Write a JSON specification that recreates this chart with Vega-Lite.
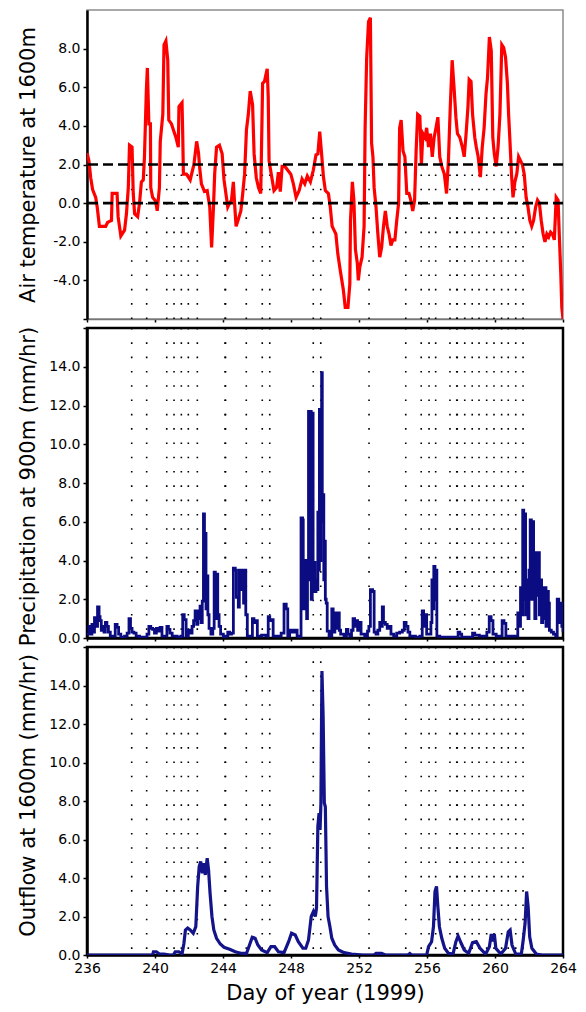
{
"$schema": "https://vega.github.io/schema/vega-lite/v6.json",
"autosize": {"type": "pad"},
"padding": {"left": 15, "top": 9, "right": 5, "bottom": 5},
"bounds": "flush",
"spacing": 9,
"background": "white",
"config": {
  "font": "DejaVu Sans",
  "axis": {"labelFont": "DejaVu Sans", "titleFont": "DejaVu Sans", "labelFontSize": 14, "titleFontSize": 21, "titleFontWeight": "normal", "labelColor": "#000", "titleColor": "#000", "tickColor": "#000", "domainColor": "#000", "grid": false, "labelFlush": false, "labelOverlap": false, "tickSize": 4, "labelPadding": 3, "tickWidth": 1.5},
  "view": {"stroke": null}
},
"datasets": {
  "dots": [{"day":238.63},{"day":239.51},{"day":240.69},{"day":241.12},{"day":241.55},{"day":241.96},{"day":242.49},{"day":244.12},{"day":244.15},{"day":245.37},{"day":246.31},{"day":246.75},{"day":249.31},{"day":249.75},{"day":252.59},{"day":254.75},{"day":255.66},{"day":256.12},{"day":256.51},{"day":257.35},{"day":257.75},{"day":257.78},{"day":258.22},{"day":258.66},{"day":259.06},{"day":259.51},{"day":259.94},{"day":260.39},{"day":260.78},{"day":261.22},{"day":261.65}],
  "temp": [
{"day":236.00,"temp":2.6},{"day":236.11,"temp":2.2},{"day":236.22,"temp":1.3},{"day":236.33,"temp":0.7},{"day":236.51,"temp":0.3},{"day":236.60,"temp":-0.2},{"day":236.73,"temp":-1.2},{"day":237.10,"temp":-1.2},{"day":237.21,"temp":-1.0},{"day":237.44,"temp":-0.9},{"day":237.48,"temp":0.5},{"day":237.77,"temp":0.5},{"day":237.83,"temp":-0.7},{"day":237.99,"temp":-1.7},{"day":238.21,"temp":-1.4},{"day":238.32,"temp":-0.55},{"day":238.43,"temp":0.8},{"day":238.50,"temp":3.0},{"day":238.65,"temp":2.9},{"day":238.72,"temp":0.5},{"day":238.80,"temp":-0.55},{"day":238.98,"temp":-0.7},{"day":239.09,"temp":0},{"day":239.20,"temp":1.1},{"day":239.31,"temp":1.2},{"day":239.38,"temp":2.4},{"day":239.49,"temp":5.8},{"day":239.55,"temp":7.0},{"day":239.64,"temp":4.1},{"day":239.73,"temp":4.1},{"day":239.75,"temp":0.8},{"day":239.86,"temp":0.3},{"day":240.04,"temp":0.1},{"day":240.13,"temp":-0.4},{"day":240.26,"temp":0.8},{"day":240.31,"temp":3.2},{"day":240.46,"temp":4.6},{"day":240.53,"temp":8.2},{"day":240.64,"temp":8.4},{"day":240.75,"temp":7.4},{"day":240.81,"temp":4.3},{"day":240.97,"temp":4.1},{"day":241.08,"temp":3.8},{"day":241.23,"temp":3.4},{"day":241.37,"temp":2.9},{"day":241.41,"temp":5.0},{"day":241.59,"temp":5.2},{"day":241.63,"temp":3.6},{"day":241.67,"temp":1.5},{"day":241.85,"temp":1.5},{"day":242.07,"temp":1.2},{"day":242.29,"temp":2.0},{"day":242.45,"temp":3.2},{"day":242.56,"temp":2.6},{"day":242.62,"temp":1.9},{"day":242.73,"temp":1.0},{"day":242.91,"temp":0.6},{"day":243.07,"temp":0.65},{"day":243.22,"temp":-0.2},{"day":243.33,"temp":-2.3},{"day":243.44,"temp":-0.2},{"day":243.51,"temp":1.5},{"day":243.62,"temp":2.9},{"day":243.79,"temp":3.0},{"day":243.95,"temp":2.55},{"day":244.06,"temp":1.2},{"day":244.17,"temp":0.5},{"day":244.28,"temp":-0.2},{"day":244.39,"temp":0},{"day":244.50,"temp":0.15},{"day":244.61,"temp":1.1},{"day":244.68,"temp":0},{"day":244.77,"temp":-1.2},{"day":244.88,"temp":-0.9},{"day":245.05,"temp":-0.4},{"day":245.16,"temp":0.5},{"day":245.27,"temp":1.5},{"day":245.38,"temp":3.8},{"day":245.49,"temp":4.6},{"day":245.60,"temp":5.8},{"day":245.74,"temp":5.1},{"day":245.83,"temp":2.55},{"day":245.96,"temp":1.3},{"day":246.09,"temp":0.8},{"day":246.22,"temp":0.5},{"day":246.33,"temp":6.2},{"day":246.44,"temp":6.3},{"day":246.60,"temp":6.95},{"day":246.66,"temp":5.5},{"day":246.71,"temp":2.2},{"day":246.84,"temp":1.5},{"day":247.00,"temp":0.65},{"day":247.15,"temp":0.8},{"day":247.26,"temp":1.6},{"day":247.37,"temp":0.6},{"day":247.48,"temp":1.9},{"day":247.64,"temp":1.9},{"day":247.81,"temp":1.7},{"day":247.99,"temp":1.5},{"day":248.14,"temp":1.0},{"day":248.30,"temp":0.3},{"day":248.48,"temp":0.65},{"day":248.65,"temp":1.25},{"day":248.81,"temp":1.0},{"day":248.96,"temp":1.4},{"day":249.14,"temp":1.1},{"day":249.31,"temp":1.7},{"day":249.47,"temp":2.5},{"day":249.58,"temp":2.55},{"day":249.69,"temp":3.7},{"day":249.80,"temp":2.55},{"day":249.91,"temp":1.35},{"day":250.02,"temp":0.65},{"day":250.20,"temp":0.5},{"day":250.31,"temp":-0.2},{"day":250.42,"temp":-1.2},{"day":250.53,"temp":-1.4},{"day":250.64,"temp":-1.6},{"day":250.75,"temp":-2.6},{"day":250.90,"temp":-3.5},{"day":251.08,"temp":-4.5},{"day":251.19,"temp":-5.4},{"day":251.35,"temp":-5.4},{"day":251.46,"temp":-4.2},{"day":251.50,"temp":-0.9},{"day":251.61,"temp":1.1},{"day":251.70,"temp":0.15},{"day":251.79,"temp":-2.4},{"day":251.90,"temp":-3.1},{"day":251.96,"temp":-4.0},{"day":252.05,"temp":-3.3},{"day":252.18,"temp":-2.8},{"day":252.30,"temp":-1.2},{"day":252.36,"temp":3.9},{"day":252.45,"temp":7.5},{"day":252.56,"temp":9.4},{"day":252.67,"temp":9.6},{"day":252.74,"temp":3.1},{"day":252.82,"temp":2.4},{"day":252.89,"temp":0.8},{"day":253.00,"temp":-0.2},{"day":253.11,"temp":-1.6},{"day":253.22,"temp":-2.8},{"day":253.33,"temp":-2.3},{"day":253.44,"temp":-1.2},{"day":253.55,"temp":-0.4},{"day":253.66,"temp":-1.2},{"day":253.77,"temp":-1.6},{"day":253.88,"temp":-2.2},{"day":253.99,"temp":-1.9},{"day":254.11,"temp":-1.9},{"day":254.22,"temp":-0.9},{"day":254.33,"temp":0},{"day":254.39,"temp":3.9},{"day":254.48,"temp":4.3},{"day":254.59,"temp":2.7},{"day":254.70,"temp":2.4},{"day":254.81,"temp":0.5},{"day":254.94,"temp":0.5},{"day":255.05,"temp":0.15},{"day":255.16,"temp":-0.4},{"day":255.27,"temp":0.15},{"day":255.36,"temp":2.7},{"day":255.45,"temp":4.6},{"day":255.58,"temp":4.5},{"day":255.67,"temp":2.0},{"day":255.76,"temp":3.6},{"day":255.89,"temp":3.4},{"day":255.98,"temp":3.9},{"day":256.09,"temp":2.9},{"day":256.20,"temp":3.6},{"day":256.31,"temp":2.4},{"day":256.42,"temp":3.4},{"day":256.53,"temp":3.9},{"day":256.64,"temp":4.45},{"day":256.75,"temp":2.4},{"day":256.87,"temp":1.9},{"day":257.02,"temp":1.5},{"day":257.15,"temp":0.5},{"day":257.26,"temp":2.2},{"day":257.37,"temp":5.0},{"day":257.48,"temp":7.4},{"day":257.59,"temp":6.0},{"day":257.70,"temp":4.45},{"day":257.79,"temp":3.6},{"day":257.93,"temp":3.4},{"day":258.08,"temp":2.9},{"day":258.19,"temp":2.4},{"day":258.30,"temp":3.6},{"day":258.41,"temp":5.0},{"day":258.48,"temp":6.4},{"day":258.59,"temp":6.3},{"day":258.68,"temp":4.6},{"day":258.81,"temp":3.4},{"day":258.90,"temp":2.9},{"day":259.01,"temp":2.4},{"day":259.14,"temp":1.35},{"day":259.25,"temp":2.9},{"day":259.36,"temp":3.9},{"day":259.47,"temp":5.65},{"day":259.56,"temp":6.5},{"day":259.67,"temp":8.6},{"day":259.78,"temp":7.9},{"day":259.87,"temp":3.4},{"day":259.96,"temp":2.55},{"day":260.07,"temp":1.9},{"day":260.18,"temp":2.9},{"day":260.29,"temp":4.6},{"day":260.40,"temp":8.2},{"day":260.51,"temp":8.05},{"day":260.62,"temp":7.55},{"day":260.73,"temp":6.2},{"day":260.80,"temp":4.6},{"day":260.88,"temp":3.2},{"day":260.97,"temp":1.5},{"day":261.06,"temp":0.3},{"day":261.17,"temp":1.1},{"day":261.28,"temp":1.5},{"day":261.39,"temp":2.4},{"day":261.50,"temp":2.2},{"day":261.61,"temp":2.0},{"day":261.72,"temp":1.5},{"day":261.83,"temp":0.3},{"day":261.94,"temp":-0.2},{"day":262.05,"temp":-0.9},{"day":262.16,"temp":-1.2},{"day":262.27,"temp":-0.9},{"day":262.39,"temp":-0.2},{"day":262.50,"temp":0.15},{"day":262.61,"temp":0},{"day":262.72,"temp":-0.9},{"day":262.83,"temp":-1.6},{"day":262.94,"temp":-2.0},{"day":263.05,"temp":-1.6},{"day":263.16,"temp":-1.75},{"day":263.27,"temp":-1.5},{"day":263.38,"temp":-1.6},{"day":263.49,"temp":-1.9},{"day":263.60,"temp":0.3},{"day":263.71,"temp":0.15},{"day":263.78,"temp":-1.6},{"day":263.87,"temp":-3.65},{"day":263.93,"temp":-5.4},{"day":264.00,"temp":-6.0}
  ],
  "precip": [
{"day":236.00,"precip":0.2},{"day":236.11,"precip":0.6},{"day":236.20,"precip":0.2},{"day":236.29,"precip":0.7},{"day":236.38,"precip":0.3},{"day":236.44,"precip":1.05},{"day":236.55,"precip":0.6},{"day":236.62,"precip":1.6},{"day":236.71,"precip":1.1},{"day":236.77,"precip":0.9},{"day":236.84,"precip":0.4},{"day":236.91,"precip":0.6},{"day":237.00,"precip":0.3},{"day":237.08,"precip":0.8},{"day":237.17,"precip":0.6},{"day":237.26,"precip":0.3},{"day":237.37,"precip":0.1},{"day":237.55,"precip":0.1},{"day":237.66,"precip":0.7},{"day":237.77,"precip":0.55},{"day":237.86,"precip":0.2},{"day":237.99,"precip":0.05},{"day":238.21,"precip":0.1},{"day":238.36,"precip":0.25},{"day":238.47,"precip":1.0},{"day":238.56,"precip":0.5},{"day":238.65,"precip":0.3},{"day":238.76,"precip":0.25},{"day":238.89,"precip":0.1},{"day":239.09,"precip":0.05},{"day":239.31,"precip":0.05},{"day":239.53,"precip":0.2},{"day":239.64,"precip":0.6},{"day":239.75,"precip":0.5},{"day":239.86,"precip":0.45},{"day":239.97,"precip":0.25},{"day":240.08,"precip":0.5},{"day":240.19,"precip":0.35},{"day":240.30,"precip":0.55},{"day":240.41,"precip":0.1},{"day":240.59,"precip":0.1},{"day":240.70,"precip":0.6},{"day":240.79,"precip":0.45},{"day":240.88,"precip":0.25},{"day":241.01,"precip":0.1},{"day":241.30,"precip":0.05},{"day":241.52,"precip":0.1},{"day":241.63,"precip":1.2},{"day":241.72,"precip":0.95},{"day":241.83,"precip":0.1},{"day":241.96,"precip":0.4},{"day":242.07,"precip":0.25},{"day":242.18,"precip":0.6},{"day":242.27,"precip":0.9},{"day":242.36,"precip":1.4},{"day":242.45,"precip":0.7},{"day":242.52,"precip":1.4},{"day":242.58,"precip":1.0},{"day":242.65,"precip":1.65},{"day":242.71,"precip":0.8},{"day":242.78,"precip":1.9},{"day":242.85,"precip":6.4},{"day":242.91,"precip":2.0},{"day":242.96,"precip":5.4},{"day":243.00,"precip":1.5},{"day":243.04,"precip":3.2},{"day":243.11,"precip":1.2},{"day":243.18,"precip":0.5},{"day":243.29,"precip":0.2},{"day":243.40,"precip":0.5},{"day":243.48,"precip":3.4},{"day":243.55,"precip":1.0},{"day":243.62,"precip":3.3},{"day":243.69,"precip":1.2},{"day":243.77,"precip":0.6},{"day":243.86,"precip":0.2},{"day":244.02,"precip":0.05},{"day":244.17,"precip":0.1},{"day":244.28,"precip":0.3},{"day":244.39,"precip":0.2},{"day":244.50,"precip":0.25},{"day":244.61,"precip":3.6},{"day":244.72,"precip":3.5},{"day":244.79,"precip":2.1},{"day":244.90,"precip":1.6},{"day":244.96,"precip":3.5},{"day":245.05,"precip":2.5},{"day":245.12,"precip":3.5},{"day":245.21,"precip":1.8},{"day":245.27,"precip":3.5},{"day":245.34,"precip":1.2},{"day":245.43,"precip":0.1},{"day":245.60,"precip":0.1},{"day":245.73,"precip":1.0},{"day":245.82,"precip":0.8},{"day":245.93,"precip":0.9},{"day":246.02,"precip":0.1},{"day":246.27,"precip":0.15},{"day":246.53,"precip":0.1},{"day":246.66,"precip":1.1},{"day":246.75,"precip":0.9},{"day":246.86,"precip":0.95},{"day":246.95,"precip":0.1},{"day":247.26,"precip":0.1},{"day":247.42,"precip":0.25},{"day":247.59,"precip":1.75},{"day":247.72,"precip":1.5},{"day":247.81,"precip":0.1},{"day":247.92,"precip":0.4},{"day":248.07,"precip":0.3},{"day":248.21,"precip":0.4},{"day":248.36,"precip":0.1},{"day":248.48,"precip":0.05},{"day":248.59,"precip":6.2},{"day":248.68,"precip":6.1},{"day":248.72,"precip":1.5},{"day":248.77,"precip":4.0},{"day":248.83,"precip":2.0},{"day":248.88,"precip":4.0},{"day":248.92,"precip":1.0},{"day":248.97,"precip":3.8},{"day":249.03,"precip":11.7},{"day":249.10,"precip":3.0},{"day":249.14,"precip":11.7},{"day":249.19,"precip":2.0},{"day":249.25,"precip":11.6},{"day":249.30,"precip":2.5},{"day":249.34,"precip":3.9},{"day":249.41,"precip":2.4},{"day":249.47,"precip":3.0},{"day":249.54,"precip":2.5},{"day":249.58,"precip":6.5},{"day":249.63,"precip":3.5},{"day":249.67,"precip":11.8},{"day":249.71,"precip":4.0},{"day":249.76,"precip":7.5},{"day":249.80,"precip":13.7},{"day":249.84,"precip":6.0},{"day":249.89,"precip":7.4},{"day":249.93,"precip":3.0},{"day":249.98,"precip":5.0},{"day":250.02,"precip":2.0},{"day":250.07,"precip":1.8},{"day":250.13,"precip":0.35},{"day":250.24,"precip":0.1},{"day":250.40,"precip":1.5},{"day":250.48,"precip":0.3},{"day":250.58,"precip":1.3},{"day":250.66,"precip":0.5},{"day":250.75,"precip":1.3},{"day":250.84,"precip":0.4},{"day":250.92,"precip":0.2},{"day":251.12,"precip":0.1},{"day":251.26,"precip":0.45},{"day":251.35,"precip":0.2},{"day":251.46,"precip":0.1},{"day":251.56,"precip":0.4},{"day":251.65,"precip":1.0},{"day":251.74,"precip":0.6},{"day":251.83,"precip":0.9},{"day":251.92,"precip":0.4},{"day":252.01,"precip":0.8},{"day":252.12,"precip":0.2},{"day":252.34,"precip":0.1},{"day":252.50,"precip":0.35},{"day":252.58,"precip":0.6},{"day":252.67,"precip":2.5},{"day":252.80,"precip":2.4},{"day":252.89,"precip":0.3},{"day":253.00,"precip":0.2},{"day":253.11,"precip":0.4},{"day":253.22,"precip":0.8},{"day":253.30,"precip":0.6},{"day":253.37,"precip":1.6},{"day":253.44,"precip":0.8},{"day":253.55,"precip":0.7},{"day":253.66,"precip":0.5},{"day":253.77,"precip":0.6},{"day":253.88,"precip":0.2},{"day":254.04,"precip":0.1},{"day":254.22,"precip":0.25},{"day":254.39,"precip":0.3},{"day":254.55,"precip":0.4},{"day":254.66,"precip":0.8},{"day":254.77,"precip":0.6},{"day":254.88,"precip":0.3},{"day":254.99,"precip":0.1},{"day":255.32,"precip":0.05},{"day":255.58,"precip":0.1},{"day":255.72,"precip":1.4},{"day":255.80,"precip":0.6},{"day":255.89,"precip":1.2},{"day":255.98,"precip":0.2},{"day":256.14,"precip":0.2},{"day":256.23,"precip":0.8},{"day":256.29,"precip":3.0},{"day":256.36,"precip":1.5},{"day":256.40,"precip":3.7},{"day":256.47,"precip":2.0},{"day":256.51,"precip":3.5},{"day":256.58,"precip":0.1},{"day":256.75,"precip":0.05},{"day":257.74,"precip":0.05},{"day":257.83,"precip":0.3},{"day":257.93,"precip":0.2},{"day":258.04,"precip":0.05},{"day":258.52,"precip":0.05},{"day":258.68,"precip":0.25},{"day":258.81,"precip":0.15},{"day":259.08,"precip":0.1},{"day":259.41,"precip":0.1},{"day":259.52,"precip":0.3},{"day":259.66,"precip":1.1},{"day":259.77,"precip":0.9},{"day":259.88,"precip":0.2},{"day":260.07,"precip":0.1},{"day":260.29,"precip":0.1},{"day":260.42,"precip":0.9},{"day":260.53,"precip":0.75},{"day":260.64,"precip":0.1},{"day":260.95,"precip":0.1},{"day":261.23,"precip":0.1},{"day":261.34,"precip":1.3},{"day":261.43,"precip":0.6},{"day":261.50,"precip":2.6},{"day":261.56,"precip":1.2},{"day":261.63,"precip":6.6},{"day":261.69,"precip":2.0},{"day":261.74,"precip":6.4},{"day":261.80,"precip":1.2},{"day":261.87,"precip":3.0},{"day":261.94,"precip":1.0},{"day":262.00,"precip":3.5},{"day":262.07,"precip":6.1},{"day":262.14,"precip":2.0},{"day":262.21,"precip":6.0},{"day":262.27,"precip":2.3},{"day":262.34,"precip":1.0},{"day":262.41,"precip":4.4},{"day":262.47,"precip":2.2},{"day":262.54,"precip":4.4},{"day":262.61,"precip":1.2},{"day":262.67,"precip":3.0},{"day":262.74,"precip":0.8},{"day":262.81,"precip":2.6},{"day":262.87,"precip":1.0},{"day":262.94,"precip":2.6},{"day":263.00,"precip":0.6},{"day":263.07,"precip":2.4},{"day":263.14,"precip":1.8},{"day":263.20,"precip":0.4},{"day":263.31,"precip":0.3},{"day":263.44,"precip":0.2},{"day":263.57,"precip":0.1},{"day":263.66,"precip":2.0},{"day":263.75,"precip":0.8},{"day":263.84,"precip":1.8},{"day":263.93,"precip":0.6},{"day":264.00,"precip":0.3}
  ],
  "outflow": [
{"day":236.00,"flow":0},{"day":239.86,"flow":0},{"day":239.91,"flow":0.17},{"day":240.08,"flow":0.17},{"day":240.26,"flow":0.05},{"day":240.53,"flow":0.05},{"day":240.86,"flow":0},{"day":241.08,"flow":0},{"day":241.19,"flow":0.17},{"day":241.41,"flow":0.17},{"day":241.59,"flow":0.05},{"day":241.70,"flow":0.6},{"day":241.79,"flow":1.3},{"day":241.92,"flow":1.4},{"day":242.07,"flow":1.3},{"day":242.25,"flow":1.13},{"day":242.40,"flow":1.47},{"day":242.51,"flow":3.56},{"day":242.60,"flow":4.6},{"day":242.69,"flow":4.86},{"day":242.78,"flow":4.25},{"day":242.87,"flow":4.77},{"day":242.96,"flow":4.16},{"day":243.07,"flow":5.03},{"day":243.15,"flow":4.42},{"day":243.24,"flow":3.2},{"day":243.35,"flow":2.0},{"day":243.46,"flow":1.3},{"day":243.62,"flow":0.87},{"day":243.84,"flow":0.57},{"day":244.06,"flow":0.4},{"day":244.39,"flow":0.3},{"day":244.72,"flow":0.17},{"day":245.05,"flow":0.09},{"day":245.38,"flow":0.08},{"day":245.56,"flow":0.52},{"day":245.72,"flow":0.92},{"day":245.89,"flow":0.87},{"day":246.05,"flow":0.52},{"day":246.27,"flow":0.26},{"day":246.60,"flow":0.12},{"day":246.82,"flow":0.43},{"day":247.04,"flow":0.43},{"day":247.26,"flow":0.17},{"day":247.59,"flow":0.12},{"day":247.86,"flow":0.69},{"day":248.03,"flow":1.13},{"day":248.25,"flow":1.04},{"day":248.43,"flow":0.69},{"day":248.70,"flow":0.35},{"day":248.87,"flow":0.35},{"day":249.03,"flow":0.78},{"day":249.19,"flow":2.0},{"day":249.32,"flow":2.26},{"day":249.43,"flow":2.0},{"day":249.50,"flow":2.43},{"day":249.58,"flow":6.68},{"day":249.65,"flow":7.37},{"day":249.71,"flow":6.5},{"day":249.76,"flow":7.9},{"day":249.82,"flow":14.75},{"day":249.89,"flow":12.4},{"day":249.96,"flow":7.9},{"day":250.02,"flow":7.7},{"day":250.09,"flow":3.56},{"day":250.18,"flow":2.0},{"day":250.29,"flow":1.47},{"day":250.40,"flow":0.87},{"day":250.57,"flow":0.52},{"day":250.79,"flow":0.26},{"day":251.12,"flow":0.12},{"day":251.56,"flow":0.05},{"day":252.23,"flow":0},{"day":252.89,"flow":0},{"day":253.00,"flow":0.08},{"day":253.33,"flow":0.08},{"day":253.55,"flow":0},{"day":254.88,"flow":0},{"day":254.99,"flow":0.08},{"day":255.10,"flow":0},{"day":255.98,"flow":0},{"day":256.09,"flow":0.43},{"day":256.27,"flow":0.69},{"day":256.38,"flow":1.47},{"day":256.47,"flow":3.3},{"day":256.56,"flow":3.56},{"day":256.64,"flow":2.5},{"day":256.73,"flow":1.47},{"day":256.87,"flow":0.87},{"day":257.04,"flow":0.35},{"day":257.26,"flow":0.09},{"day":257.53,"flow":0.05},{"day":257.70,"flow":0.69},{"day":257.83,"flow":0.99},{"day":258.01,"flow":0.61},{"day":258.19,"flow":0.26},{"day":258.45,"flow":0.09},{"day":258.68,"flow":0.64},{"day":258.90,"flow":0.69},{"day":259.12,"flow":0.35},{"day":259.45,"flow":0.05},{"day":259.67,"flow":0.43},{"day":259.78,"flow":1.09},{"day":259.87,"flow":0.7},{"day":259.96,"flow":1.09},{"day":260.05,"flow":0.35},{"day":260.34,"flow":0.05},{"day":260.62,"flow":0.35},{"day":260.78,"flow":1.21},{"day":260.89,"flow":1.3},{"day":261.00,"flow":0.52},{"day":261.22,"flow":0.05},{"day":261.55,"flow":0.05},{"day":261.66,"flow":0.78},{"day":261.77,"flow":1.65},{"day":261.86,"flow":3.3},{"day":261.95,"flow":2.5},{"day":262.04,"flow":0.95},{"day":262.17,"flow":0.35},{"day":262.43,"flow":0.05},{"day":262.76,"flow":0},{"day":264.00,"flow":0}
  ]
},
"vconcat": [
  {
    "width": 476, "height": 309,
    "view": {"stroke": "#8c8c8c", "strokeWidth": 1.5},
    "layer": [
      {
        "data": {"name": "dots"},
        "mark": {"type": "rule", "color": "#000", "strokeWidth": 1.6, "strokeDash": [1.6, 12.7]},
        "encoding": {
          "x": {"field": "day", "type": "quantitative", "scale": {"domain": [236, 264], "nice": false, "zero": false},
                "axis": {"values": [236,238,240,242,244,246,248,250,252,254,256,258,260,262,264], "labels": false, "title": null, "tickSize": 3, "domainColor": "#777", "domainWidth": 1.5}},
          "y": {"datum": -6, "type": "quantitative", "scale": {"domain": [-6, 10], "nice": false, "zero": false}},
          "y2": {"datum": 2}
        }
      },
      {
        "data": {"name": "temp"},
        "mark": {"type": "line", "color": "#ff0000", "strokeWidth": 3.2, "clip": true},
        "encoding": {
          "x": {"field": "day", "type": "quantitative"},
          "y": {"field": "temp", "type": "quantitative",
                "axis": {"values": [-6,-4,-2,0,2,4,6,8], "labelExpr": "datum.value < -5 ? '' : (datum.value < 0 ? '-' : '') + format(abs(datum.value), '.1f')", "title": "Air temperature at 1600m", "titleX": -53, "titleY": 154.5, "titleAngle": -90, "titleBaseline": "alphabetic", "titleAlign": "center", "domainWidth": 2.5}}
        }
      },
      {
        "data": {"values": [{"lvl": "a"}]},
        "mark": {"type": "rule", "color": "#000", "strokeWidth": 2.6, "strokeDash": [10, 5]},
        "encoding": {"y": {"datum": 2, "type": "quantitative"}}
      },
      {
        "data": {"values": [{"lvl": "b"}]},
        "mark": {"type": "rule", "color": "#000", "strokeWidth": 2.6, "strokeDash": [10, 5]},
        "encoding": {"y": {"datum": 0, "type": "quantitative"}}
      }
    ]
  },
  {
    "width": 476, "height": 310,
    "view": {"stroke": "#000", "strokeWidth": 2.5},
    "layer": [
      {
        "data": {"name": "dots"},
        "mark": {"type": "rule", "color": "#000", "strokeWidth": 1.6, "strokeDash": [1.6, 12.7]},
        "encoding": {
          "x": {"field": "day", "type": "quantitative", "scale": {"domain": [236, 264], "nice": false, "zero": false},
                "axis": {"values": [236,238,240,242,244,246,248,250,252,254,256,258,260,262,264], "labels": false, "title": null, "tickSize": 3, "domainWidth": 2.5}}
        }
      },
      {
        "data": {"name": "precip"},
        "mark": {"type": "line", "color": "#0c0c82", "strokeWidth": 2.8, "interpolate": "step-after", "clip": true},
        "encoding": {
          "x": {"field": "day", "type": "quantitative"},
          "y": {"field": "precip", "type": "quantitative", "scale": {"domain": [0, 16], "nice": false},
                "axis": {"values": [0,2,4,6,8,10,12,14,16], "labelExpr": "datum.value > 15 ? '' : format(datum.value, '.1f')", "title": "Precipitation at 900m (mm/hr)", "titleX": -53, "titleY": 158, "titleAngle": -90, "titleBaseline": "alphabetic", "titleAlign": "center", "domainWidth": 2.5}}
        }
      }
    ]
  },
  {
    "width": 476, "height": 308,
    "view": {"stroke": "#000", "strokeWidth": 2.5},
    "layer": [
      {
        "data": {"name": "dots"},
        "mark": {"type": "rule", "color": "#000", "strokeWidth": 1.6, "strokeDash": [1.6, 12.7]},
        "encoding": {
          "x": {"field": "day", "type": "quantitative", "scale": {"domain": [236, 264], "nice": false, "zero": false},
                "axis": {"values": [236,238,240,242,244,246,248,250,252,254,256,258,260,262,264], "labelExpr": "datum.value % 4 == 0 ? datum.label : ''", "title": "Day of year (1999)", "titlePadding": 7, "tickSize": 3, "labelPadding": 3, "domainWidth": 2.5}}
        }
      },
      {
        "data": {"name": "outflow"},
        "mark": {"type": "line", "color": "#14148a", "strokeWidth": 3.2, "clip": true},
        "encoding": {
          "x": {"field": "day", "type": "quantitative"},
          "y": {"field": "flow", "type": "quantitative", "scale": {"domain": [0, 16], "nice": false},
                "axis": {"values": [0,2,4,6,8,10,12,14,16], "labelExpr": "datum.value > 15 ? '' : format(datum.value, '.1f')", "title": "Outflow at 1600m (mm/hr)", "titleX": -53, "titleY": 148, "titleAngle": -90, "titleBaseline": "alphabetic", "titleAlign": "center", "domainWidth": 2.5}}
        }
      }
    ]
  }
]
}
